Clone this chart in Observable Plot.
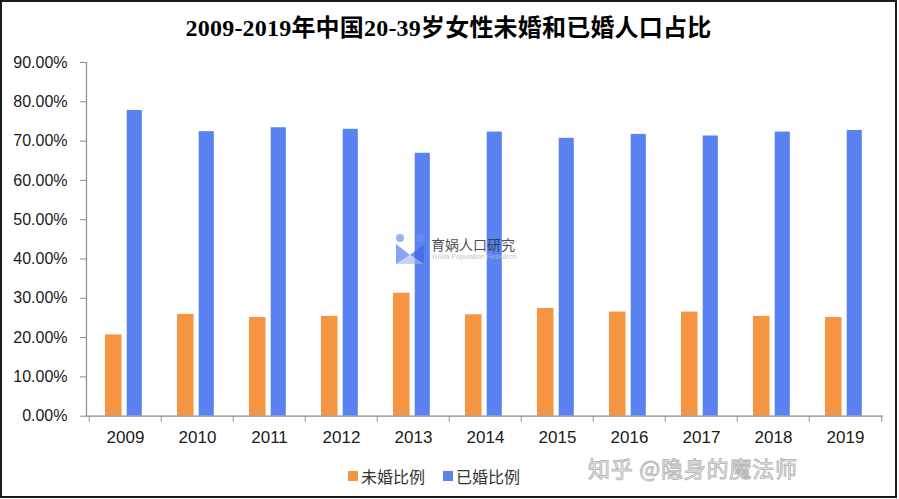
<!DOCTYPE html>
<html>
<head>
<meta charset="utf-8">
<script src="https://cdn.jsdelivr.net/npm/d3@7"></script>
<script src="https://cdn.jsdelivr.net/npm/@observablehq/plot@0.6"></script>
<style>
  html, body { margin: 0; padding: 0; background: #fff; }
  #frame {
    position: relative; width: 897px; height: 498px; box-sizing: border-box;
    border: 2px solid #1a1a1a; background: #fff; overflow: hidden;
  }
  #title {
    height: 50px; line-height: 52px; text-align: center;
    font-family: "Liberation Serif", "Noto Sans CJK SC", serif;
    font-weight: bold; font-size: 24px; color: #000; letter-spacing: 0.2px;
  }
  #chart svg { display: block; }
  #legend {
    position: absolute; left: 346px; top: 463px;
    font-family: "Noto Sans CJK SC", sans-serif; font-size: 16px; color: #333;
    display: flex; align-items: center; gap: 18px; line-height: 22px;
  }
  #legend .item { display: flex; align-items: center; gap: 3px; }
  #legend .sw { width: 10px; height: 10px; display: inline-block; }
  #zhihu {
    position: absolute; left: 586px; top: 454px; line-height: 22px;
    font-family: "Noto Sans CJK SC", sans-serif; font-size: 22px; color: #fff;
    -webkit-text-stroke: 1px #b9b9b9; letter-spacing: 0.8px;
  }
  #wm {
    position: absolute; left: 393px; top: 231px; display: flex; align-items: center; gap: 6px;
    opacity: 0.85; pointer-events: none;
  }
  #wm .cn { font-family: "Noto Sans CJK SC", sans-serif; font-size: 14px; color: #333; line-height: 16px; }
  #wm .en { font-family: "Liberation Sans", sans-serif; font-size: 7px; color: #bbb; line-height: 10px; }
</style>
</head>
<body>
<div id="frame">
  <div id="title">2009-2019年中国20-39岁女性未婚和已婚人口占比</div>
  <div id="chart"></div>
  <div id="wm">
    <svg width="30" height="32" viewBox="0 0 30 32">
      <circle cx="5" cy="5" r="4" fill="#6b8ff0" opacity="0.8"/>
      <circle cx="25" cy="5" r="4" fill="#6b8ff0" opacity="0.8"/>
      <polygon points="1,11 15,22 1,31" fill="#5a80f2" opacity="0.85"/>
      <polygon points="29,11 15,22 29,31" fill="#3f6ae8" opacity="0.85"/>
      <polygon points="1,31 15,22 29,31" fill="#9fb6f5" opacity="0.7"/>
    </svg>
    <div>
      <div class="cn">育娲人口研究</div>
      <div class="en">YuWa Population Research</div>
    </div>
  </div>
  <div id="legend"></div>
  <div id="zhihu">知乎 @隐身的魔法师</div>
</div>
<script>
const years = ["2009","2010","2011","2012","2013","2014","2015","2016","2017","2018","2019"];
const unmarried = [0.207, 0.259, 0.251, 0.254, 0.313, 0.258, 0.274, 0.265, 0.265, 0.254, 0.251];
const married   = [0.778, 0.724, 0.734, 0.730, 0.669, 0.723, 0.707, 0.717, 0.713, 0.723, 0.727];
const seriesNames = ["未婚比例", "已婚比例"];
const seriesColors = ["#F59442", "#5B82F2"];
const yTicks = [0, 0.1, 0.2, 0.3, 0.4, 0.5, 0.6, 0.7, 0.8, 0.9];

const unmarriedRows = years.map((year, i) => ({year, series: seriesNames[0], value: unmarried[i]}));
const marriedRows = years.map((year, i) => ({year, series: seriesNames[1], value: married[i]}));

const W = 893, H = 400, ML = 84, MR = 12, MT = 10, MB = 36.3;
const step = (W - ML - MR) / years.length;
const axisColor = "#8c8c8c";

const chart = Plot.plot({
  width: W, height: H,
  marginLeft: ML, marginRight: MR, marginTop: MT, marginBottom: MB,
  style: {fontFamily: "'Liberation Sans', Arial, sans-serif", fontSize: "16px", color: "#1a1a1a", background: "transparent"},
  x: {type: "band", domain: years, padding: 0, label: null},
  y: {domain: [0, 0.9], label: null},
  color: {domain: seriesNames, range: seriesColors},
  marks: [
    Plot.barY(unmarriedRows, {x: "year", y: "value", fill: "series", insetLeft: 16, insetRight: 39.5}),
    Plot.barY(marriedRows, {x: "year", y: "value", fill: "series", insetLeft: 37.7, insetRight: 19.2}),
    Plot.ruleY([0], {stroke: axisColor, strokeWidth: 1.2}),
    Plot.frame({anchor: "left", stroke: axisColor, strokeWidth: 1.2}),
    Plot.axisY(yTicks, {tickSize: 6, tickPadding: 13, tickFormat: d3.format(".2%"), stroke: axisColor, fontSize: 16, label: null}),
    Plot.axisX({tickSize: 0, tickPadding: 15, fontSize: 17, label: null}),
    Plot.axisX(years, {tickSize: 6, fill: "none", dx: -step / 2, stroke: axisColor, label: null}),
    Plot.axisX([years[years.length - 1]], {tickSize: 6, fill: "none", dx: step / 2, stroke: axisColor, label: null})
  ]
});
document.getElementById("chart").appendChild(chart);

const legend = document.getElementById("legend");
seriesNames.forEach((name, i) => {
  const item = document.createElement("div");
  item.className = "item";
  item.innerHTML = `<span class="sw" style="background:${seriesColors[i]}"></span><span>${name}</span>`;
  legend.appendChild(item);
});
</script>
</body>
</html>
